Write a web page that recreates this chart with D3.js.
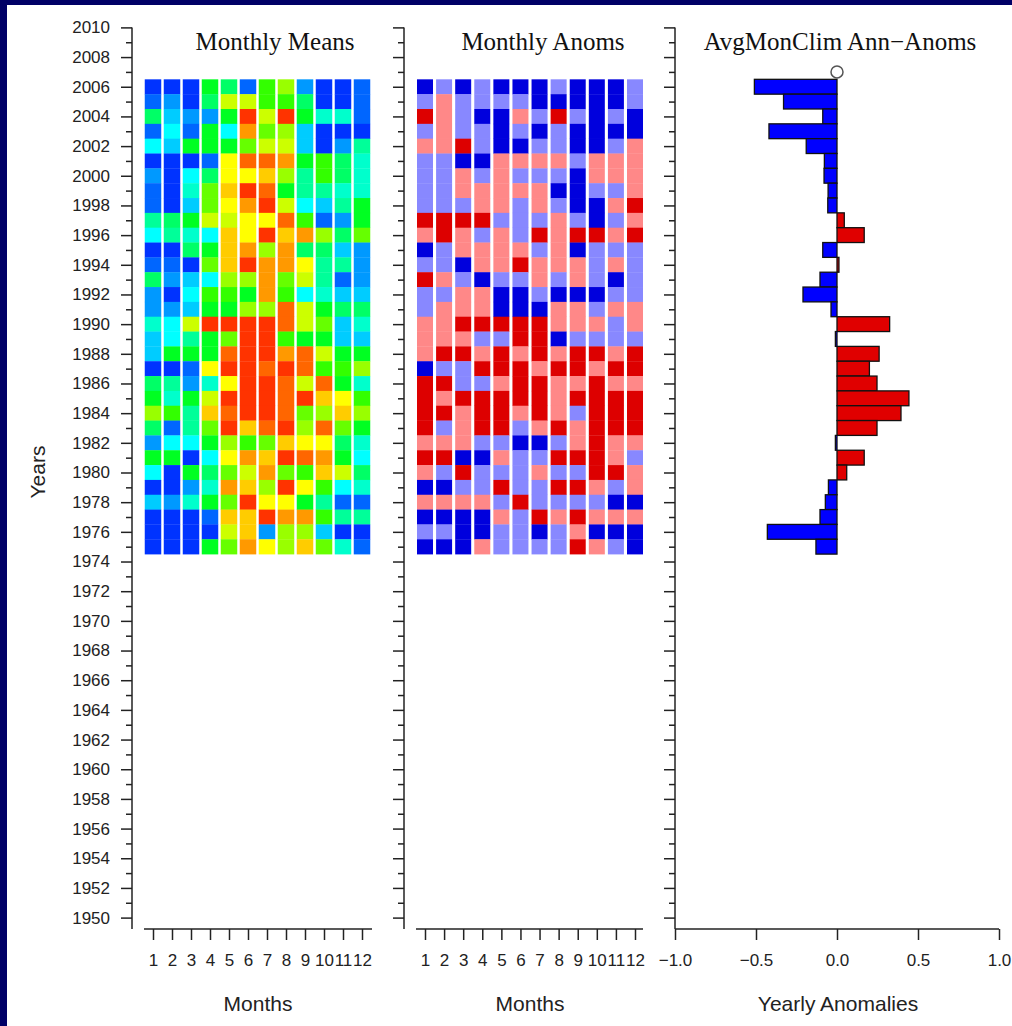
<!DOCTYPE html>
<html><head><meta charset="utf-8">
<script src="https://cdn.jsdelivr.net/npm/d3@7"></script>
<style>body{margin:0;background:#fff}svg{display:block}</style>
</head><body>
<svg id="chart" width="1012" height="1026"></svg>
<script>
// ---------------- DATA ----------------
const years = [2006,2005,2004,2003,2002,2001,2000,1999,1998,1997,1996,1995,1994,1993,1992,1991,
               1990,1989,1988,1987,1986,1985,1984,1983,1982,1981,1980,1979,1978,1977,1976,1975];
const months = [1,2,3,4,5,6,7,8,9,10,11,12];
const monthTickLabels = ["1","2","3","4","5","6","7","8","9","10","11","12"];
const yearTicks = [1950,1951,1952,1953,1954,1955,1956,1957,1958,1959,1960,1961,1962,1963,1964,1965,1966,1967,1968,1969,
  1970,1971,1972,1973,1974,1975,1976,1977,1978,1979,1980,1981,1982,1983,1984,1985,1986,1987,1988,1989,
  1990,1991,1992,1993,1994,1995,1996,1997,1998,1999,2000,2001,2002,2003,2004,2005,2006,2007,2008,2009,2010];
const anomTicks = [-1.0,-0.5,0.0,0.5,1.0];
const panelTitles = ["Monthly Means","Monthly Anoms","AvgMonClim Ann\u2212Anoms"];
const axisTitles = ["Months","Months","Yearly Anomalies"];

// monthly means as colour-class levels (0 = coldest ... 17 = warmest), rows follow `years`
const monthlyMeans = [
  [0,0,0,8,7,1,9,11,2,0,0,1],
  [1,2,0,7,12,12,9,9,7,0,0,1],
  [7,3,2,2,8,17,12,17,8,5,5,1],
  [1,4,1,8,4,15,10,11,3,0,0,0],
  [4,3,8,8,8,10,12,12,3,0,2,6],
  [0,0,0,1,13,16,16,15,8,9,7,5],
  [2,0,4,7,13,13,14,11,6,9,7,5],
  [1,0,5,10,14,17,16,8,6,6,5,5],
  [1,0,3,10,13,15,17,12,4,3,6,8],
  [6,7,8,12,12,13,13,16,9,1,2,8],
  [4,6,5,4,14,13,17,14,15,11,7,10],
  [0,0,7,8,14,15,11,15,7,7,3,2],
  [1,1,0,10,14,17,15,15,13,6,6,2],
  [7,2,3,4,11,11,15,10,12,6,1,2],
  [2,0,4,9,9,8,15,9,4,5,3,3],
  [2,2,3,8,8,11,11,16,12,8,7,7],
  [5,4,12,17,17,17,17,16,12,10,3,5],
  [3,4,6,8,10,17,17,9,8,8,3,3],
  [3,8,8,8,16,17,17,15,16,12,8,8],
  [0,0,1,13,17,17,16,17,16,9,9,11],
  [7,6,2,5,13,17,17,16,12,16,8,5],
  [8,5,8,12,17,17,17,16,17,14,13,9],
  [11,9,6,14,16,17,17,16,10,11,14,11],
  [7,1,6,10,17,14,16,17,11,16,10,8],
  [2,4,4,8,11,9,10,14,13,13,7,5],
  [8,8,0,4,13,15,14,17,16,15,8,4],
  [4,0,8,7,10,12,15,10,9,14,12,7],
  [0,0,2,5,15,14,11,17,13,9,4,5],
  [3,2,5,8,10,17,13,13,8,6,1,1],
  [0,0,0,1,14,14,17,15,15,9,6,6],
  [0,0,0,0,12,14,2,11,11,3,0,0],
  [0,0,0,8,10,15,13,11,14,10,5,1]
];

// monthly anomaly classes: -2 strong neg, -1 weak neg, 1 weak pos, 2 strong pos
const monthlyAnoms = [
  [-2,-1,-2,-1,-2,-2,-2,-1,-2,-2,-2,-1],
  [-1,1,-1,-1,-1,-1,-2,-2,-2,-2,-2,-1],
  [2,1,-1,-2,-2,1,-1,2,-1,-2,-1,-2],
  [-1,1,-1,-1,-2,-1,-2,-1,-2,-2,-2,-2],
  [1,1,2,-1,-2,-2,-1,-1,-2,-2,-1,1],
  [-1,-1,-2,-2,1,1,1,1,-1,1,1,1],
  [-1,-1,1,-1,1,-1,-1,-1,-2,1,1,1],
  [-1,-1,1,1,1,1,1,-2,-2,-1,-1,1],
  [-1,-1,-1,1,1,-1,1,-1,-2,-2,1,2],
  [2,2,2,2,-1,-1,-1,1,-1,-2,-1,1],
  [1,2,1,-1,1,-1,2,1,2,2,1,2],
  [-2,-1,1,1,1,1,-1,1,-2,-1,-1,-1],
  [-1,-1,-2,1,1,2,1,1,1,-1,1,-1],
  [2,1,-1,-2,-1,-1,1,-1,1,-1,-2,-1],
  [-1,-1,1,1,-2,-2,-1,-2,-2,-2,-1,-1],
  [-1,1,1,1,-2,-2,-2,1,1,-1,1,1],
  [1,1,2,2,2,2,2,1,1,1,-1,1],
  [1,1,1,-1,-1,2,2,-2,-1,-1,-1,-1],
  [1,2,2,1,2,1,2,1,2,2,1,2],
  [-2,-1,-1,2,2,2,1,2,2,1,2,2],
  [2,2,-1,-1,1,2,2,1,1,2,1,1],
  [2,1,2,2,2,2,2,1,2,2,2,2],
  [2,2,1,2,2,1,2,1,-1,2,2,2],
  [2,-1,1,2,2,-1,1,2,1,2,2,2],
  [1,1,1,-1,-1,-2,-2,-1,1,2,1,1],
  [2,2,-2,-2,1,-1,-1,2,2,2,1,-1],
  [1,-1,2,-1,-1,-1,1,-1,-1,2,2,1],
  [-2,-2,-1,-1,2,-1,-1,2,2,1,-1,1],
  [1,1,1,1,-1,2,-1,-1,-1,-1,-2,-2],
  [-2,-2,-2,-2,1,-1,2,1,2,1,1,1],
  [-1,-1,-2,-2,-1,-1,-2,-1,1,-2,-2,-2],
  [-2,-2,-2,1,-1,-1,-1,-1,2,1,-1,-2]
];

// yearly anomalies, rows follow `years`
const yearlyAnoms = [-0.51,-0.33,-0.088,-0.42,-0.19,-0.078,-0.08,-0.055,-0.057,0.045,0.168,-0.088,
  0.012,-0.105,-0.21,-0.037,0.325,-0.01,0.26,0.20,0.247,0.444,0.395,0.247,-0.01,0.168,0.06,
  -0.053,-0.072,-0.105,-0.43,-0.13];
const circleYear = 2007, circleValue = 0;

// ---------------- DRAW ----------------
const svg = d3.select("#chart");
const W = 1012, H = 1026;
svg.append("rect").attr("width", W).attr("height", H).attr("fill", "#000066");
svg.append("rect").attr("x", 7).attr("y", 5).attr("width", W - 7).attr("height", H - 5).attr("fill", "#fff");

const sans = "'Liberation Sans', Arial, sans-serif";
const serif = "'Liberation Serif', 'Times New Roman', serif";
const axisColor = "#222";

const y = d3.scaleLinear().domain([1950, 2010]).range([917.6, 27.4]);
const rowH = Math.abs(y(1) - y(0));
const axisBottomY = 929;

const meanColors = ["#0033ff","#0066ff","#0099ff","#00ccff","#00ffff","#00ffcc","#00ff99","#00ff66",
  "#00ff22","#33ff00","#66ff00","#99ff00","#ccff00","#ffff00","#ffcc00","#ff9900","#ff6600","#ff3300"];
const meanColor = d3.scaleOrdinal().domain(d3.range(18)).range(meanColors);
const anomColor = d3.scaleOrdinal().domain([-2,-1,1,2]).range(["#0000dd","#8888ff","#ff8888","#dd0000"]);

function yAxis(xPos, labels) {
  const major = yearTicks.filter(v => v % 2 === 0);
  const minor = yearTicks.filter(v => v % 2 !== 0);
  const gMaj = svg.append("g").attr("transform", `translate(${xPos},0)`)
    .call(d3.axisLeft(y).tickValues(major).tickSize(11).tickPadding(11)
      .tickFormat(labels ? d3.format("d") : () => ""));
  const gMin = svg.append("g").attr("transform", `translate(${xPos},0)`)
    .call(d3.axisLeft(y).tickValues(minor).tickSize(6).tickFormat(() => ""));
  [gMaj, gMin].forEach(g => {
    g.select(".domain").remove();
    g.selectAll("line").attr("stroke", axisColor).attr("stroke-width", 1.5);
    g.selectAll("text").attr("font-family", sans).attr("font-size", 17).attr("fill", "#222");
  });
  svg.append("line").attr("x1", xPos).attr("x2", xPos).attr("y1", y(2010)).attr("y2", axisBottomY)
    .attr("stroke", axisColor).attr("stroke-width", 1.5);
}

function xAxis(scale, tickVals, fmt, lineX0, lineX1) {
  const g = svg.append("g").attr("transform", `translate(0,${axisBottomY})`)
    .call(d3.axisBottom(scale).tickValues(tickVals).tickSize(11).tickPadding(14).tickFormat(fmt));
  g.select(".domain").remove();
  g.selectAll("line").attr("stroke", axisColor).attr("stroke-width", 1.5);
  g.selectAll("text").attr("font-family", sans).attr("font-size", 17).attr("fill", "#222");
  svg.append("line").attr("x1", lineX0).attr("x2", lineX1).attr("y1", axisBottomY).attr("y2", axisBottomY)
    .attr("stroke", axisColor).attr("stroke-width", 1.5);
}

function heatmap(xScale, data, colorFn, cellW) {
  const g = svg.append("g");
  data.forEach((row, i) => {
    g.selectAll(null).data(row).join("rect")
      .attr("x", (d, j) => xScale(months[j]) - cellW / 2)
      .attr("y", y(years[i] + 0.5))
      .attr("width", cellW)
      .attr("height", y(years[i] - 0.5) - y(years[i] + 0.5) + 0.3)
      .attr("fill", d => colorFn(d));
  });
}

// Panel 1
const x1 = d3.scaleLinear().domain([1, 12]).range([153, 362]);
heatmap(x1, monthlyMeans, meanColor, 16.5);
yAxis(132, true);
xAxis(x1, months, (d, i) => monthTickLabels[i], 144, 372);

// Panel 2
const x2 = d3.scaleLinear().domain([1, 12]).range([425, 635]);
heatmap(x2, monthlyAnoms, anomColor, 16);
yAxis(404, false);
xAxis(x2, months, (d, i) => monthTickLabels[i], 416, 643);

// Panel 3
const x3 = d3.scaleLinear().domain([-1, 1]).range([675, 999]);
svg.append("g").selectAll("rect").data(yearlyAnoms).join("rect")
  .attr("x", d => Math.min(x3(0), x3(d)))
  .attr("width", d => Math.max(Math.abs(x3(d) - x3(0)), 0.5))
  .attr("y", (d, i) => y(years[i] + 0.5))
  .attr("height", rowH)
  .attr("fill", d => d < 0 ? "#0000ff" : "#e00000")
  .attr("stroke", "#111").attr("stroke-width", 1.3);
svg.append("circle").attr("cx", x3(circleValue)).attr("cy", y(circleYear)).attr("r", 6)
  .attr("fill", "none").attr("stroke", "#555").attr("stroke-width", 1.5);
yAxis(675, false);
xAxis(x3, anomTicks, d => d3.format(".1f")(d).replace("-", "\u2212"), 675, 999);

// Titles
const titleX = [275, 543, 840];
titleX.forEach((tx, i) => {
  svg.append("text").attr("x", tx).attr("y", 50).attr("text-anchor", "middle")
    .attr("font-family", serif).attr("font-size", 25).attr("fill", "#111").text(panelTitles[i]);
});
const axTitleX = [258, 530, 838];
axTitleX.forEach((tx, i) => {
  svg.append("text").attr("x", tx).attr("y", 1011).attr("text-anchor", "middle")
    .attr("font-family", sans).attr("font-size", 21).attr("fill", "#222").text(axisTitles[i]);
});
svg.append("text").attr("transform", "translate(45,472) rotate(-90)").attr("text-anchor", "middle")
  .attr("font-family", sans).attr("font-size", 21).attr("fill", "#222").text("Years");
</script>
</body></html>
